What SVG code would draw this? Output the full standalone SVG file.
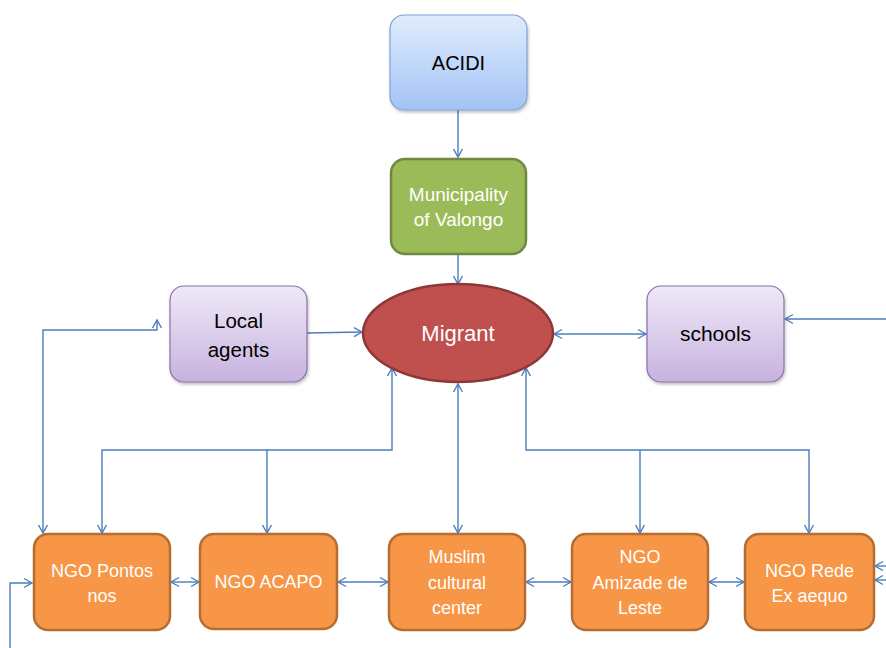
<svg xmlns="http://www.w3.org/2000/svg" width="886" height="648" viewBox="0 0 886 648">
  <defs>
    <linearGradient id="gBlue" x1="0" y1="0" x2="0" y2="1">
      <stop offset="0" stop-color="#e0ecfd"/>
      <stop offset="1" stop-color="#a3c3f5"/>
    </linearGradient>
    <linearGradient id="gPurple" x1="0" y1="0" x2="0" y2="1">
      <stop offset="0" stop-color="#efe9f7"/>
      <stop offset="1" stop-color="#c7b2df"/>
    </linearGradient>
    <filter id="sh" x="-10%" y="-10%" width="125%" height="130%">
      <feDropShadow dx="1" dy="2" stdDeviation="1.5" flood-color="#000" flood-opacity="0.25"/>
    </filter>
    <marker id="arr" markerUnits="userSpaceOnUse" markerWidth="12" markerHeight="12" refX="9" refY="5" orient="auto-start-reverse" viewBox="0 0 12 10">
      <path d="M1,0.5 L9,5 L1,9.5" fill="none" stroke="#4a7ebb" stroke-width="1.4"/>
    </marker>
  </defs>
  <style>
    .lbl { font-family: "Liberation Sans", Arial, sans-serif; text-anchor: middle; }
    .dark { fill: #000; }
    .light { fill: #fff; }
    .conn { fill: none; stroke: #4a7ebb; stroke-width: 1.4; }
    .ngo rect { fill: #f79646; stroke: #b66d31; stroke-width: 2.5; }
    .purple rect { fill: url(#gPurple); stroke: #8a70ab; stroke-width: 1.2; }
  </style>
  <rect width="886" height="648" fill="#fff"/>

  <g id="connectors">
    <path class="conn" d="M458,110 V157" marker-end="url(#arr)"/>
    <path class="conn" d="M458,255 V284" marker-end="url(#arr)"/>
    <path class="conn" d="M307,333 L362,332" marker-end="url(#arr)"/>
    <path class="conn" d="M554,334 H646" marker-start="url(#arr)" marker-end="url(#arr)"/>
    <path class="conn" d="M886,319 H785" marker-end="url(#arr)"/>
    <path class="conn" d="M43,533 V330 H157 V320" marker-start="url(#arr)" marker-end="url(#arr)"/>
    <path class="conn" d="M10,648 V583 H32" marker-end="url(#arr)"/>
    <path class="conn" d="M392,368 V450 H102 V533" marker-start="url(#arr)" marker-end="url(#arr)"/>
    <path class="conn" d="M267,450 V533" marker-end="url(#arr)"/>
    <path class="conn" d="M458,384 V533" marker-start="url(#arr)" marker-end="url(#arr)"/>
    <path class="conn" d="M526,368 V450 H809 V533" marker-start="url(#arr)" marker-end="url(#arr)"/>
    <path class="conn" d="M640,450 V533" marker-end="url(#arr)"/>
    <path class="conn" d="M171,582 H199" marker-start="url(#arr)" marker-end="url(#arr)"/>
    <path class="conn" d="M338,582 H388" marker-start="url(#arr)" marker-end="url(#arr)"/>
    <path class="conn" d="M526,582 H571" marker-start="url(#arr)" marker-end="url(#arr)"/>
    <path class="conn" d="M709,582 H744" marker-start="url(#arr)" marker-end="url(#arr)"/>
    <path class="conn" d="M886,566 H875" marker-end="url(#arr)"/>
    <path class="conn" d="M886,580 H875" marker-end="url(#arr)"/>
  </g>

  <g id="acidi">
    <rect x="390" y="15" width="137" height="95" rx="14" fill="url(#gBlue)" stroke="#7ea2d6" stroke-width="1.2" filter="url(#sh)"/>
    <text class="lbl dark" x="458.5" y="70" font-size="20">ACIDI</text>
  </g>

  <g id="municipality">
    <rect x="391" y="159" width="135" height="95" rx="14" fill="#9bbb59" stroke="#71893f" stroke-width="2.5"/>
    <text class="lbl light" x="458.5" y="201" font-size="19">Municipality</text>
    <text class="lbl light" x="458.5" y="226" font-size="19">of Valongo</text>
  </g>

  <g id="migrant">
    <ellipse cx="458" cy="333" rx="95" ry="49" fill="#c0504d" stroke="#8c3836" stroke-width="2.5"/>
    <text class="lbl light" x="458" y="341" font-size="22">Migrant</text>
  </g>

  <g id="local-agents" class="purple">
    <rect x="170" y="286" width="137" height="96" rx="14" filter="url(#sh)"/>
    <text class="lbl dark" x="238.5" y="328" font-size="20.5">Local</text>
    <text class="lbl dark" x="238.5" y="357" font-size="20.5">agents</text>
  </g>

  <g id="schools" class="purple">
    <rect x="647" y="286" width="137" height="96" rx="14" filter="url(#sh)"/>
    <text class="lbl dark" x="715.5" y="341" font-size="21">schools</text>
  </g>

  <g id="ngo-pontos" class="ngo">
    <rect x="34" y="534" width="136" height="96" rx="14"/>
    <text class="lbl light" x="102" y="577" font-size="18">NGO Pontos</text>
    <text class="lbl light" x="102" y="602" font-size="18">nos</text>
  </g>

  <g id="ngo-acapo" class="ngo">
    <rect x="200" y="534" width="137" height="95" rx="14"/>
    <text class="lbl light" x="268.5" y="588" font-size="18">NGO ACAPO</text>
  </g>

  <g id="muslim-center" class="ngo">
    <rect x="389" y="534" width="136" height="96" rx="14"/>
    <text class="lbl light" x="457" y="563" font-size="18">Muslim</text>
    <text class="lbl light" x="457" y="589" font-size="18">cultural</text>
    <text class="lbl light" x="457" y="614" font-size="18">center</text>
  </g>

  <g id="ngo-amizade" class="ngo">
    <rect x="572" y="534" width="136" height="96" rx="14"/>
    <text class="lbl light" x="640" y="563" font-size="18">NGO</text>
    <text class="lbl light" x="640" y="589" font-size="18">Amizade de</text>
    <text class="lbl light" x="640" y="614" font-size="18">Leste</text>
  </g>

  <g id="ngo-rede" class="ngo">
    <rect x="745" y="534" width="129" height="96" rx="14"/>
    <text class="lbl light" x="809.5" y="577" font-size="18">NGO Rede</text>
    <text class="lbl light" x="809.5" y="602" font-size="18">Ex aequo</text>
  </g>
</svg>
